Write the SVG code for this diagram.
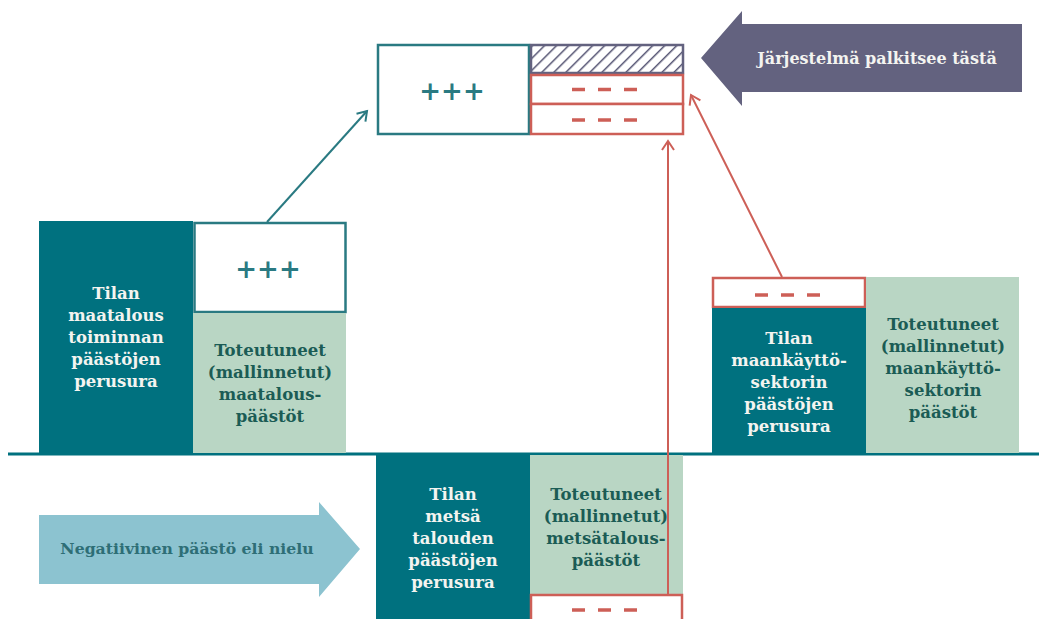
<svg xmlns="http://www.w3.org/2000/svg" width="1039" height="619" viewBox="0 0 1039 619">
<defs>
<pattern id="hatch" patternUnits="userSpaceOnUse" width="8.5" height="8.5" patternTransform="rotate(45)">
<rect width="8.5" height="8.5" fill="#ffffff"/>
<line x1="0" y1="0" x2="0" y2="8.5" stroke="#5a5977" stroke-width="3"/>
</pattern>
<marker id="aTeal" markerWidth="14" markerHeight="14" refX="11" refY="7" orient="auto" markerUnits="userSpaceOnUse">
<path d="M2,1 L11,7 L2,13" fill="none" stroke="#2a7a82" stroke-width="2"/>
</marker>
<marker id="aRed" markerWidth="14" markerHeight="14" refX="11" refY="7" orient="auto" markerUnits="userSpaceOnUse">
<path d="M2,1 L11,7 L2,13" fill="none" stroke="#cd5f57" stroke-width="2"/>
</marker>
</defs>
<style>
text{font-family:"DejaVu Serif","Liberation Serif",serif;font-weight:bold;text-anchor:middle}
.dark{fill:#00717f}
.light{fill:#b9d6c4}
.wt{fill:#f4f4f0;font-size:16.5px}
.gt{fill:#1b5c55;font-size:16.5px}
.plus{fill:#2a7a82;font-size:26px}
.tealbox{fill:#ffffff;stroke:#2a7a82;stroke-width:2.5}
.redbox{fill:#ffffff;stroke:#cd5f57;stroke-width:2.5}
.dash{stroke:#cd5f57;stroke-width:3.5;stroke-dasharray:13 13}
</style>
<rect width="1039" height="619" fill="#ffffff"/>

<g id="baseline">
<line x1="8" y1="454" x2="1039" y2="454" stroke="#00717f" stroke-width="3"/>
</g>

<g id="node-maatalous-perusura">
<rect class="dark" x="39" y="221" width="154" height="232"/>
<text class="wt"><tspan x="116" y="299">Tilan</tspan><tspan x="116" y="321">maatalous</tspan><tspan x="116" y="343">toiminnan</tspan><tspan x="116" y="365">päästöjen</tspan><tspan x="116" y="387">perusura</tspan></text>
</g>

<g id="node-maatalous-plus">
<rect class="tealbox" x="194.5" y="223" width="151" height="89"/>
<text class="plus" x="268" y="278">+++</text>
</g>

<g id="node-maatalous-toteutuneet">
<rect class="light" x="193" y="313" width="153" height="140"/>
<text class="gt"><tspan x="270" y="356">Toteutuneet</tspan><tspan x="270" y="378">(mallinnetut)</tspan><tspan x="270" y="400">maatalous-</tspan><tspan x="270" y="422">päästöt</tspan></text>
</g>

<g id="node-top-plus">
<rect class="tealbox" x="378" y="45" width="151" height="89"/>
<text class="plus" x="452" y="100">+++</text>
</g>

<g id="node-top-hatch">
<rect x="531" y="45" width="152" height="28" fill="url(#hatch)" stroke="#63627f" stroke-width="2.5"/>
</g>

<g id="node-top-red1">
<rect class="redbox" x="531" y="75" width="152" height="29"/>
<line class="dash" x1="572" y1="89.5" x2="640" y2="89.5"/>
</g>

<g id="node-top-red2">
<rect class="redbox" x="531" y="104" width="152" height="30"/>
<line class="dash" x1="572" y1="120" x2="640" y2="120"/>
</g>

<g id="node-palkitsee">
<path d="M701,58 L742,11 L742,24 L1022,24 L1022,92 L742,92 L742,106 Z" fill="#63627f"/>
<text x="877" y="64" fill="#f4f4f0" style="font-size:16px">Järjestelmä palkitsee tästä</text>
</g>

<g id="node-maankaytto-red">
<rect class="redbox" x="713" y="278" width="152" height="29"/>
<line class="dash" x1="755" y1="295" x2="823" y2="295"/>
</g>

<g id="node-maankaytto-perusura">
<rect class="dark" x="712" y="308" width="154" height="145"/>
<text class="wt"><tspan x="789" y="344">Tilan</tspan><tspan x="789" y="366">maankäyttö-</tspan><tspan x="789" y="388">sektorin</tspan><tspan x="789" y="410">päästöjen</tspan><tspan x="789" y="432">perusura</tspan></text>
</g>

<g id="node-maankaytto-toteutuneet">
<rect class="light" x="866" y="277" width="153" height="176"/>
<text class="gt"><tspan x="943" y="330">Toteutuneet</tspan><tspan x="943" y="352">(mallinnetut)</tspan><tspan x="943" y="374">maankäyttö-</tspan><tspan x="943" y="396">sektorin</tspan><tspan x="943" y="418">päästöt</tspan></text>
</g>

<g id="node-metsa-perusura">
<rect class="dark" x="376" y="455" width="154" height="164"/>
<text class="wt"><tspan x="453" y="500">Tilan</tspan><tspan x="453" y="522">metsä</tspan><tspan x="453" y="544">talouden</tspan><tspan x="453" y="566">päästöjen</tspan><tspan x="453" y="588">perusura</tspan></text>
</g>

<g id="node-metsa-toteutuneet">
<rect class="light" x="530" y="455" width="153" height="139"/>
<text class="gt"><tspan x="606" y="500">Toteutuneet</tspan><tspan x="606" y="522">(mallinnetut)</tspan><tspan x="606" y="544">metsätalous-</tspan><tspan x="606" y="566">päästöt</tspan></text>
</g>

<g id="node-metsa-red">
<rect class="redbox" x="531" y="595" width="151" height="30"/>
<line class="dash" x1="572" y1="610" x2="640" y2="610"/>
</g>

<g id="node-nielu">
<path d="M39,515 L319,515 L319,502 L360,549 L319,597 L319,584 L39,584 Z" fill="#8cc3d0"/>
<text x="187" y="554" fill="#2e6e76" style="font-size:15.7px">Negatiivinen päästö eli nielu</text>
</g>

<g id="connectors" fill="none">
<line x1="267" y1="222" x2="367" y2="111" stroke="#2a7a82" stroke-width="2" marker-end="url(#aTeal)"/>
<line x1="668" y1="594" x2="668" y2="141" stroke="#cd5f57" stroke-width="2" marker-end="url(#aRed)"/>
<line x1="782" y1="277" x2="691" y2="95" stroke="#cd5f57" stroke-width="2" marker-end="url(#aRed)"/>
</g>
</svg>
